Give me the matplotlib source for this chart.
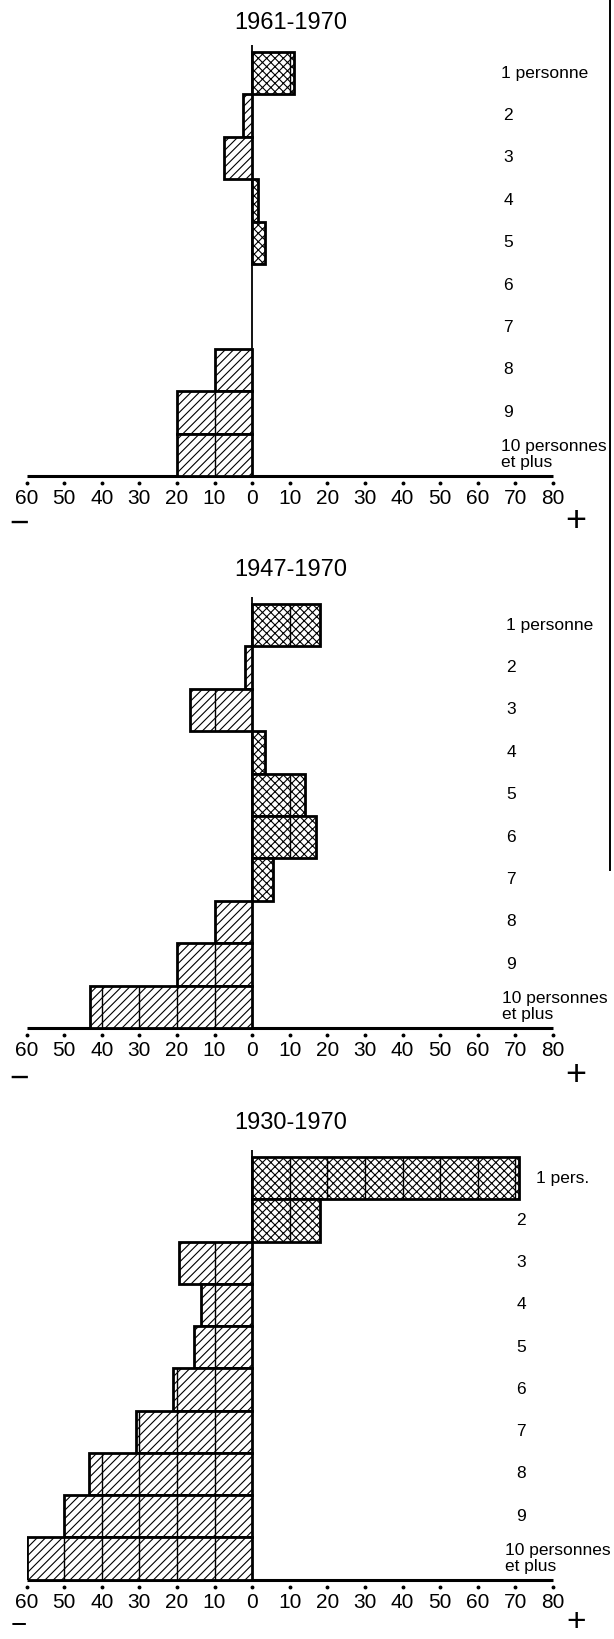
import matplotlib
matplotlib.use('Agg')
import matplotlib.pyplot as plt
from matplotlib.lines import Line2D
from matplotlib.transforms import offset_copy

plt.rcParams['font.family'] = ['Liberation Sans', 'DejaVu Sans']
plt.rcParams['hatch.linewidth'] = 0.8

# ---------------- data ----------------
titles = ["1961-1970", "1947-1970", "1930-1970"]
categories = ["1 personne", "2", "3", "4", "5", "6", "7", "8", "9",
              "10 personnes\net plus"]
categories_short = ["1 pers.", "2", "3", "4", "5", "6", "7", "8", "9",
                    "10 personnes\net plus"]
vals_1961 = [11, -2.5, -7.5, 1.5, 3.5, 0, 0, -10, -20, -20]
vals_1947 = [18, -2, -16.5, 3.5, 14, 17, 5.5, -10, -20, -43]
vals_1930 = [71, 18, -19.5, -13.5, -15.5, -21, -31, -43.5, -50, -60]
tick_values = [-60, -50, -40, -30, -20, -10, 0, 10, 20, 30, 40, 50, 60, 70, 80]
tick_labels = [str(abs(t)) for t in tick_values]

# ---------------- layout (pixels) ----------------
W, H = 614, 1639
fig = plt.figure(figsize=(W / 100, H / 100), dpi=100)

X_LEFT, X_RIGHT = 26.5, 553.0
panels = [
    dict(vals=vals_1961, labels=categories, top=45, bartop=52, base=476,
         ty=23, fx=501, dx=508, lx=501, m_y=524, p_y=522, m_fs=24, p_fs=26),
    dict(vals=vals_1947, labels=categories, top=597, bartop=604, base=1028,
         ty=570, fx=506, dx=511, lx=502, m_y=1079, p_y=1076, m_fs=24, p_fs=26),
    dict(vals=vals_1930, labels=categories_short, top=1150, bartop=1157,
         base=1579.5, ty=1123, fx=536, dx=521, lx=505, m_y=1626, p_y=1622,
         m_fs=20, p_fs=24),
]


def fx(px):
    return px / W


def fy(py):
    return 1 - py / H


for title, p in zip(titles, panels):
    n = len(p["vals"])
    unit = (p["base"] - p["bartop"]) / n
    ytop = n + (p["bartop"] - p["top"]) / unit
    ax = fig.add_axes([fx(X_LEFT), fy(p["base"]),
                       (X_RIGHT - X_LEFT) / W, (p["base"] - p["top"]) / H])
    ax.set_xlim(tick_values[0], tick_values[-1])
    ax.set_ylim(0, ytop)

    ypos = [n - 0.5 - i for i in range(n)]
    vals = p["vals"]

    ax.axvline(0, color='black', lw=1.3, zorder=1)

    for y, v in zip(ypos, vals):
        if v == 0:
            continue
        hatch = 'xxxx' if v > 0 else '////'
        ax.barh(y, v, height=1.0, left=0, facecolor='white',
                edgecolor='black', hatch=hatch, linewidth=2.0, zorder=3)
        step = 10 if v > 0 else -10
        inner = [k for k in range(step, int(v), step)
                 if abs(k) < abs(v) - 0.3]
        if inner:
            ax.vlines(inner, y - 0.5, y + 0.5, color='black', lw=1.0,
                      zorder=4)

    for s in ('top', 'right', 'left'):
        ax.spines[s].set_visible(False)
    ax.spines['bottom'].set_linewidth(2.2)
    ax.spines['bottom'].set_capstyle('butt')
    ax.set_yticks([])
    ax.set_xticks(tick_values)
    ax.set_xticklabels(tick_labels, fontsize=15)
    ax.tick_params(axis='x', length=0, pad=9.5)

    trans = offset_copy(ax.get_xaxis_transform(), fig=fig, y=-7, units='dots')
    ax.plot(tick_values, [0] * len(tick_values), 'o', ms=1.8,
            color='black', transform=trans, clip_on=False)

    fig.text(fx(291), fy(p["ty"]), title, ha='center', va='center',
             fontsize=17)

    for i, lab in enumerate(p["labels"]):
        yc_px = p["bartop"] + (i + 0.5) * unit
        if i == 0:
            fig.text(fx(p["fx"]), fy(yc_px), lab, ha='left', va='center',
                     fontsize=12.5)
        elif i == n - 1:
            fig.text(fx(p["lx"]), fy(yc_px), lab, ha='left', va='center',
                     fontsize=12.5, linespacing=1.05)
        else:
            fig.text(fx(p["dx"]), fy(yc_px), lab, ha='center', va='center',
                     fontsize=12.5)

    fig.text(fx(19), fy(p["m_y"]), '\u2212', ha='center', va='center',
             fontsize=p["m_fs"])
    fig.text(fx(576), fy(p["p_y"]), '+', ha='center', va='center',
             fontsize=p["p_fs"])

fig.add_artist(Line2D([fx(609.5), fx(609.5)], [fy(0), fy(870)],
                      color='black', lw=1.4))

fig.savefig('out.png', dpi=100, facecolor='white')
